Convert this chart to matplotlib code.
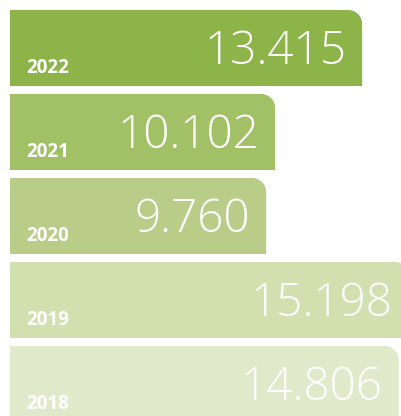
import matplotlib
matplotlib.use('Agg')
import matplotlib.pyplot as plt
from matplotlib.path import Path
from matplotlib.patches import PathPatch

years = ['2022', '2021', '2020', '2019', '2018']
values = [13.415, 10.102, 9.760, 15.198, 14.806]
value_labels = ['13.415', '10.102', '9.760', '15.198', '14.806']
colors = ['#8CB448', '#A2C066', '#B9CD89', '#D2DFAF', '#E1E9CB']

W, H = 401, 416
dpi = 100
fig = plt.figure(figsize=(W / dpi, H / dpi), dpi=dpi)
ax = fig.add_axes([0, 0, 1, 1])
px_per_x = 26.25
px_per_y = 84.0
ax.set_xlim(-10 / px_per_x, (W - 10) / px_per_x)
ax.set_ylim((H - 48) / px_per_y, -48 / px_per_y)
ax.axis('off')

rx = 14 / px_per_x
ry = 14 / px_per_y
h = 76 / px_per_y
k = 0.5523

for i, (v, c, yr, lab) in enumerate(zip(values, colors, years, value_labels)):
    top = i - h / 2
    bottom = i + h / 2
    verts = [(0, bottom), (0, top), (v - rx, top),
             (v - rx + k * rx, top), (v, top + ry - k * ry), (v, top + ry),
             (v, bottom), (0, bottom)]
    codes = [Path.MOVETO, Path.LINETO, Path.LINETO,
             Path.CURVE4, Path.CURVE4, Path.CURVE4,
             Path.LINETO, Path.CLOSEPOLY]
    ax.add_patch(PathPatch(Path(verts, codes), facecolor=c, edgecolor='none'))
    ax.text(16 / px_per_x, bottom - 13 / px_per_y, yr, ha='left', va='baseline',
            fontsize=13.5, fontweight='bold', color='white', family=['Open Sans', 'DejaVu Sans'])
    ax.text(v - 16 / px_per_x, i + 16 / px_per_y, lab, ha='right', va='baseline',
            fontsize=33, fontweight='light', color='white', family=['Open Sans', 'DejaVu Sans'])

fig.savefig('out.png', dpi=dpi)
